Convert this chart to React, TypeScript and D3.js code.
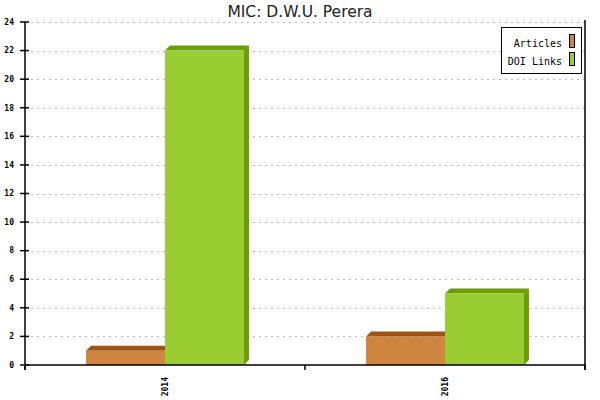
import React from 'react';
import * as d3 from 'd3';

const years = ['2014', '2016'];
const seriesNames = ['Articles', 'DOI Links'];
const articles = [1, 2];
const doiLinks = [22, 5];
const yTicks = [0, 2, 4, 6, 8, 10, 12, 14, 16, 18, 20, 22, 24];

const W = 600;
const H = 400;
const left = 25;
const right = 585;
const top = 22;
const bottom = 365;
const depth = 5;

const fronts = ['#CD853F', '#9ACD32'];
const darks = ['#A05414', '#6B9F00'];

export default function App() {
  const x = d3.scaleBand<string>().domain(years).range([left, right]);
  const y = d3.scaleLinear().domain([0, 24]).range([bottom, top]);
  const groupW = x.bandwidth() * 0.564;
  const inner = d3
    .scaleBand<string>()
    .domain(seriesNames)
    .range([(x.bandwidth() - groupW) / 2, (x.bandwidth() + groupW) / 2]);
  const values = [articles, doiLinks];

  const mono = "'DejaVu Sans Mono', monospace";

  return (
    <svg
      width={W}
      height={H}
      style={{ position: 'absolute', left: 0, top: 0, background: '#fff' }}
    >
      <text
        x={W / 2}
        y={17}
        textAnchor="middle"
        fontFamily="'DejaVu Sans', sans-serif"
        fontSize={15.5}
        fill="#222"
      >
        MIC: D.W.U. Perera
      </text>

      {/* grid */}
      {yTicks.slice(1).map((t) => (
        <line
          key={'g' + t}
          x1={31}
          x2={right}
          y1={Math.round(y(t)) + 0.5}
          y2={Math.round(y(t)) + 0.5}
          stroke="#bbb"
          strokeDasharray="2,4"
        />
      ))}

      {/* bars */}
      {years.map((yr, i) =>
        seriesNames.map((s, j) => {
          const v = values[j][i];
          const bx = (x(yr) as number) + (inner(s) as number);
          const bw = inner.bandwidth();
          const by = y(v);
          const y0 = y(0);
          return (
            <g key={yr + s}>
              <polygon
                points={`${bx},${by} ${bx + depth},${by - depth} ${bx + bw + depth},${by - depth} ${bx + bw},${by}`}
                fill={darks[j]}
              />
              <polygon
                points={`${bx + bw},${by} ${bx + bw + depth},${by - depth} ${bx + bw + depth},${y0 - depth} ${bx + bw},${y0}`}
                fill={darks[j]}
              />
              <rect x={bx} y={by} width={bw} height={y0 - by} fill={fronts[j]} />
            </g>
          );
        })
      )}

      {/* axes */}
      <g stroke="#000" strokeWidth={1.5}>
        <line x1={left} x2={left} y1={top} y2={370} />
        <line x1={right} x2={right} y1={top - 2} y2={370} />
        <line x1={left} x2={right} y1={bottom} y2={bottom} />
        {yTicks.map((t) => (
          <line key={'t' + t} x1={20} x2={29} y1={y(t)} y2={y(t)} />
        ))}
        {[left, left + x.bandwidth(), right].map((p) => (
          <line key={'xt' + p} x1={p} x2={p} y1={bottom} y2={370} />
        ))}
      </g>
      {yTicks.map((t) => (
        <text
          key={'l' + t}
          x={14}
          y={y(t)}
          dy="0.35em"
          textAnchor="end"
          fontFamily={mono}
          fontSize={8}
          fontWeight="bold"
          fill="#000"
        >
          {t}
        </text>
      ))}
      {years.map((yr) => {
        const cx = (x(yr) as number) + x.bandwidth() / 2;
        return (
          <text
            key={'x' + yr}
            transform={`translate(${cx},377) rotate(-90)`}
            dy="0.35em"
            textAnchor="end"
            fontFamily={mono}
            fontSize={8}
            fontWeight="bold"
            fill="#000"
          >
            {yr}
          </text>
        );
      })}

      {/* legend */}
      <rect x={501.5} y={27.5} width={80} height={46} fill="#fff" stroke="#000" />
      {seriesNames.map((s, j) => (
        <g key={'lg' + s}>
          <text
            x={562}
            y={47 + j * 18}
            textAnchor="end"
            fontFamily={mono}
            fontSize={10}
            fill="#000"
          >
            {s}
          </text>
          <rect
            x={569.5}
            y={34.5 + j * 18}
            width={5}
            height={13}
            fill={fronts[j]}
            stroke="#000"
          />
        </g>
      ))}
    </svg>
  );
}
